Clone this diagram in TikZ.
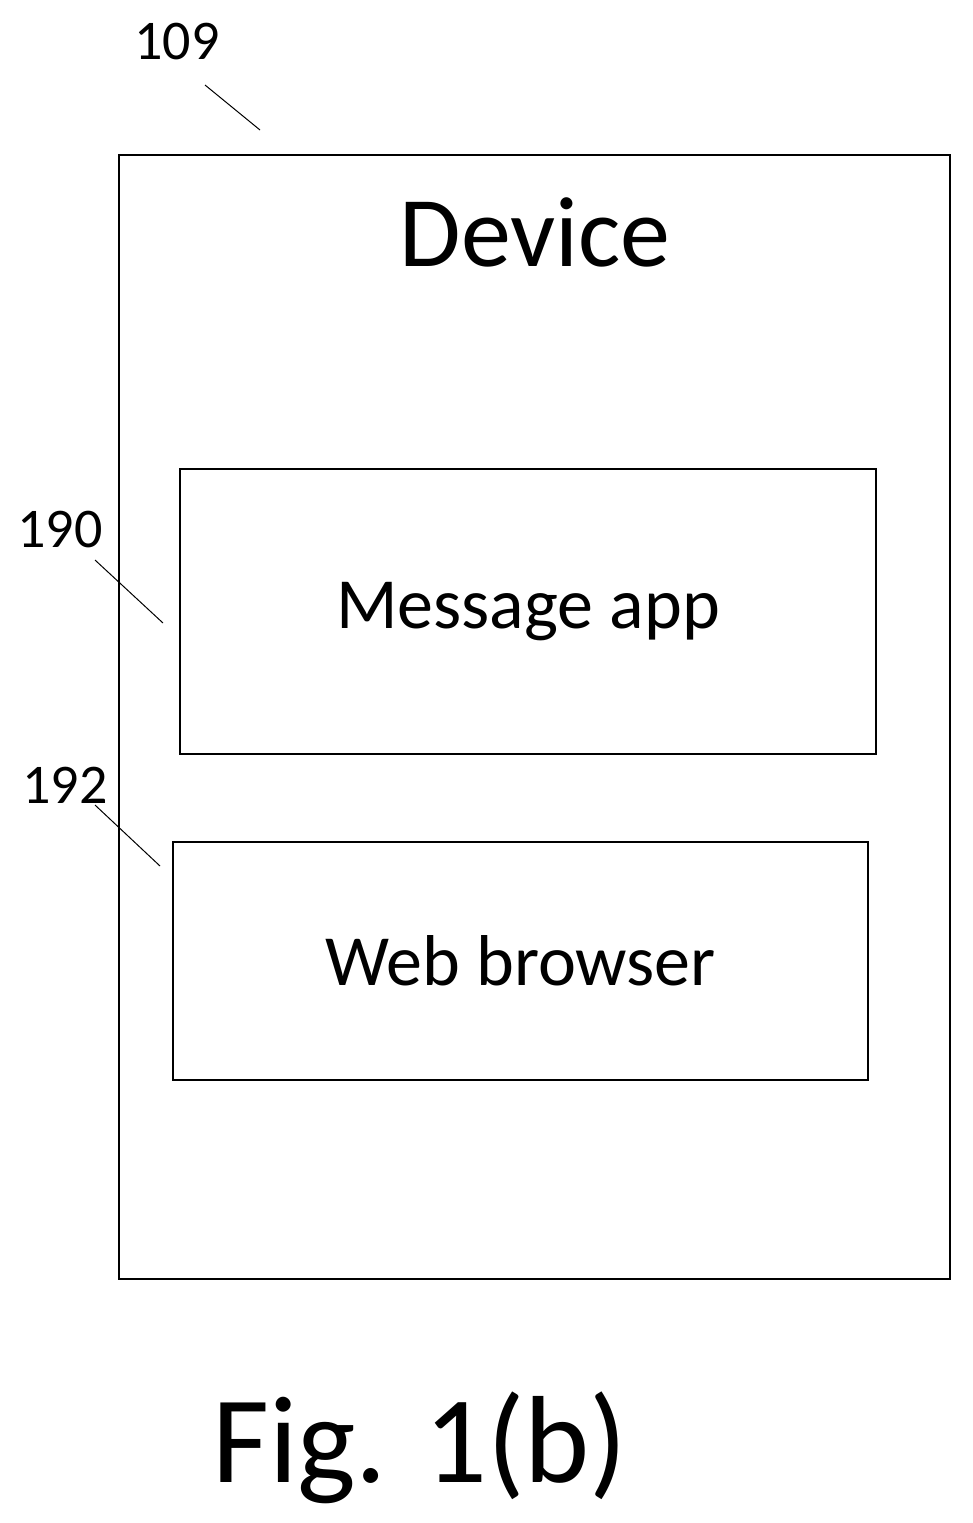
\documentclass[tikz,border=0pt]{standalone}
\usepackage{fontspec}
\setmainfont{Carlito}
\usetikzlibrary{positioning}
\tikzset{box/.style={draw,line width=1pt,inner sep=0pt},
lbl/.style={inner sep=0pt,font=\fontsize{28}{28}\selectfont},
lead/.style={line width=0.5pt}}
\begin{document}
\begin{tikzpicture}[x=0.5pt,y=-0.5pt]
  \useasboundingbox (0,0) rectangle (973,1523);
  \draw [box] (119,155) rectangle (950,1279);
  \node (device) at (535,232) {\fontsize{50}{50}\selectfont Device};
  \node (msgbox) [box,minimum width=348pt,minimum height=142.5pt] at (528,611.5) {};
  \node (msg) at (msgbox.center) {\fontsize{36}{36}\selectfont Message app};
  \node (webbox) [box,minimum width=347.5pt,minimum height=119pt] at (520.5,961) {};
  \node (web) at (webbox.center) {\fontsize{36}{36}\selectfont Web browser};

  \node (l109) [lbl] at (177,42) {109};
  \node (l190) [lbl] at (60,530) {190};
  \node (l192) [lbl] at (65,785) {192};
  \coordinate (c109) at (260,130);
  \coordinate (c190) at (163,623);
  \coordinate (c192) at (160,866);
  \draw [lead] (205,85) -- (c109);
  \draw [lead] (95,560) -- (c190);
  \draw [lead] (95,805) -- (c192);

  \node (fig) at (420,1448) {\fontsize{62}{62}\selectfont Fig. 1(b)};
\end{tikzpicture}
\end{document}
